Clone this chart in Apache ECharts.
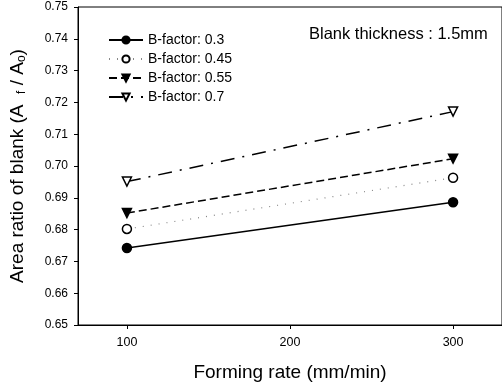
<!DOCTYPE html>
<html>
<head>
<meta charset="utf-8">
<script src="https://cdn.jsdelivr.net/npm/echarts@6/dist/echarts.min.js"></script>
<style>
  html, body { margin: 0; padding: 0; background: #fff; }
  #chart { width: 502px; height: 389px; }
</style>
</head>
<body>
<div id="chart"></div>
<script>
// forming rate (mm/min)
const rates = [100, 300]
const xTicks = [100, 200, 300]
// area ratio of blank for each B-factor
const bf03 = [0.6742, 0.6886]
const bf045 = [0.6802, 0.6963]
const bf055 = [0.6852, 0.7023]
const bf07 = [0.6951, 0.7171]
const names = ['B-factor: 0.3', 'B-factor: 0.45', 'B-factor: 0.55', 'B-factor: 0.7']

const font = 'Arial, "Liberation Sans", sans-serif'

function pts(vals) {
  return rates.map((r, i) => [r, vals[i]])
}

function makeSeries(name, vals, symbol, rotate, fill, line) {
  return {
    name: name,
    type: 'line',
    data: pts(vals),
    symbol: symbol,
    symbolSize: 9,
    symbolRotate: rotate,
    itemStyle: {
      color: fill,
      borderColor: '#000',
      borderWidth: 1.5
    },
    lineStyle: Object.assign({ color: '#000', width: 1.5 }, line)
  }
}

const chart = echarts.init(document.getElementById('chart'))
chart.setOption({
  animation: false,
  backgroundColor: '#fff',
  grid: {
    left: 77,
    top: 7,
    width: 427,
    height: 318,
    show: true,
    borderColor: '#000',
    borderWidth: 1
  },
  legend: {
    orient: 'vertical',
    left: 103,
    top: 28,
    itemGap: 5,
    itemWidth: 34,
    itemHeight: 9,
    textStyle: { fontFamily: font, fontSize: 14, color: '#000' },
    data: names
  },
  graphic: [{
    type: 'text',
    left: 309,
    top: 26,
    style: { text: 'Blank thickness : 1.5mm', font: '16.5px ' + font, fill: '#000' }
  }],
  xAxis: {
    type: 'value',
    min: 70,
    max: 330,
    name: 'Forming rate (mm/min)',
    nameLocation: 'middle',
    nameGap: 38,
    nameTextStyle: { fontFamily: font, fontSize: 19, color: '#000' },
    axisLine: { lineStyle: { color: '#000' } },
    axisTick: { inside: false, length: 4, customValues: xTicks, lineStyle: { color: '#000' } },
    axisLabel: { customValues: xTicks, fontFamily: font, fontSize: 12.5, color: '#000', margin: 11 },
    splitLine: { show: false }
  },
  yAxis: {
    type: 'value',
    min: 0.65,
    max: 0.75,
    interval: 0.01,
    name: '{n|Area ratio of blank (A  }{s|f}{n| / A}{s|o}{n|)}',
    nameLocation: 'middle',
    nameGap: 50,
    nameTextStyle: {
      rich: {
        n: { fontFamily: font, fontSize: 19, color: '#000' },
        s: { fontFamily: font, fontSize: 12, color: '#000', verticalAlign: 'bottom', padding: [9, 0, 0, 0] }
      }
    },
    axisLine: { lineStyle: { color: '#000' } },
    axisTick: { inside: false, length: 4, lineStyle: { color: '#000' } },
    axisLabel: {
      fontFamily: font, fontSize: 12, color: '#000', margin: 10,
      formatter: v => v.toFixed(2)
    },
    splitLine: { show: false }
  },
  series: [
    makeSeries(names[0], bf03, 'circle', 0, '#000', { type: 'solid' }),
    makeSeries(names[1], bf045, 'circle', 0, '#fff', { type: [1, 7], width: 1.2, color: '#888' }),
    makeSeries(names[2], bf055, 'triangle', 180, '#000', { type: [8, 4] }),
    makeSeries(names[3], bf07, 'triangle', 180, '#fff', { type: [14, 8, 2, 8] })
  ]
})
</script>
</body>
</html>
